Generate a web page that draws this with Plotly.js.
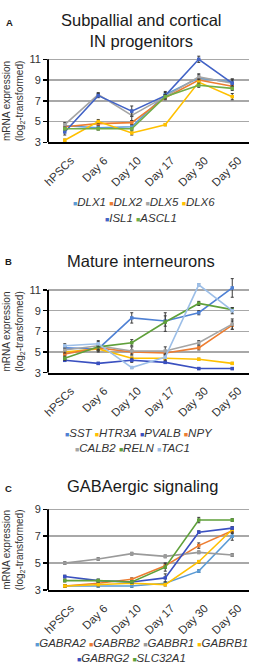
<!DOCTYPE html>
<html>
<head>
<meta charset="utf-8">
<script src="https://cdn.plot.ly/plotly-3.0.1.min.js"></script>
<style>
  html, body { margin: 0; padding: 0; background: #fff; }
  #chart { width: 254px; height: 665px; }
</style>
</head>
<body>
<div id="chart"></div>
<script>
// Time points shared by all three panels
const days = ['hPSCs', 'Day 6', 'Day 10', 'Day 17', 'Day 30', 'Day 50'];

// Panel A: subpallial and cortical IN progenitor markers (log2 mRNA)
const genesA = ['DLX1', 'DLX2', 'DLX5', 'DLX6', 'ISL1', 'ASCL1'];
const dlx1 = [4.6, 4.4, 4.5, 7.6, 9.2, 8.8];
const dlx2 = [4.5, 4.8, 4.9, 7.3, 9.0, 8.4];
const dlx5 = [4.7, 7.6, 5.6, 7.4, 9.3, 8.7];
const dlx6 = [3.2, 5.0, 3.9, 4.7, 8.8, 7.4];
const isl1 = [4.0, 7.5, 6.0, 7.5, 11.0, 8.7];
const ascl1 = [4.3, 4.3, 4.3, 7.4, 8.5, 8.2];
const dlx1Err = [0.2, 0.2, 0.2, 0.3, 0.3, 0.3];
const dlx2Err = [0.15, 0.2, 0.2, 0.2, 0.2, 0.2];
const dlx5Err = [0.2, 0.2, 0.5, 0.2, 0.3, 0.3];
const dlx6Err = [0.1, 0.2, 0.2, 0.1, 0.3, 0.3];
const isl1Err = [0.3, 0.2, 0.5, 0.3, 0.3, 0.4];
const ascl1Err = [0.1, 0.1, 0.1, 0.2, 0.2, 0.2];

// Panel B: mature interneuron markers
const genesB = ['SST', 'HTR3A', 'PVALB', 'NPY', 'CALB2', 'RELN', 'TAC1'];
const sst = [5.4, 5.3, 8.3, 8.0, 8.8, 11.2];
const htr3a = [5.0, 5.3, 4.4, 4.4, 4.3, 3.9];
const pvalb = [4.2, 3.9, 4.2, 4.0, 3.4, 3.4];
const npy = [4.8, 5.4, 5.0, 4.9, 5.4, 7.6];
const calb2 = [5.2, 5.6, 5.1, 5.1, 5.9, 7.7];
const reln = [4.4, 5.5, 5.9, 7.9, 9.7, 9.1];
const tac1 = [5.6, 5.8, 3.5, 4.5, 11.5, 9.0];
const sstErr = [0.2, 0.3, 0.5, 0.5, 0.2, 0.9];
const htr3aErr = [0.2, 0.2, 0.1, 0.1, 0.1, 0.1];
const pvalbErr = [0.1, 0.1, 0.2, 0.1, 0.1, 0.1];
const npyErr = [0.2, 0.2, 0.2, 0.2, 0.2, 0.4];
const calb2Err = [0.3, 0.4, 0.4, 0.4, 0.2, 0.5];
const relnErr = [0.2, 0.3, 0.3, 0.9, 0.2, 0.2];
const tac1Err = [0.2, 0.3, 0.1, 0.3, 0.1, 0.3];

// Panel C: GABAergic signaling genes
const genesC = ['GABRA2', 'GABRB2', 'GABBR1', 'GABRB1', 'GABRG2', 'SLC32A1'];
const gabra2 = [3.3, 3.3, 3.3, 3.5, 4.4, 7.0];
const gabrb2 = [3.3, 3.5, 3.8, 4.8, 6.3, 7.4];
const gabbr1 = [5.0, 5.3, 5.7, 5.5, 5.8, 5.6];
const gabrb1 = [3.3, 3.4, 3.5, 3.4, 5.1, 7.5];
const gabrg2 = [4.0, 3.7, 3.6, 3.9, 7.3, 7.6];
const slc32a1 = [3.7, 3.7, 3.6, 4.7, 8.2, 8.2];
const gabra2Err = [0.1, 0.1, 0.1, 0.1, 0.1, 0.3];
const gabrb2Err = [0.1, 0.1, 0.1, 0.2, 0.2, 0.2];
const gabbr1Err = [0.1, 0.1, 0.1, 0.1, 0.1, 0.1];
const gabrb1Err = [0.1, 0.1, 0.1, 0.1, 0.1, 0.2];
const gabrg2Err = [0.1, 0.1, 0.1, 0.3, 0.1, 0.1];
const slc32a1Err = [0.1, 0.1, 0.1, 0.3, 0.2, 0.1];

// Axis tick values
const ticksAB = [3, 5, 7, 9, 11];
const ticksC = [3, 5, 7, 9];

// Colours
const colorsA = ['#5b9bd5', '#ed7d31', '#a5a5a5', '#ffc000', '#4263c6', '#70ad47'];
const colorsB = ['#4f81d4', '#ffc000', '#3a50c0', '#ed7d31', '#a5a5a5', '#5fa03a', '#9dbfe8'];
const colorsC = ['#5b9bd5', '#ed7d31', '#9a9a9a', '#ffc000', '#3a50c0', '#5fa03a'];

const FONT = 'Liberation Sans, Arial, Helvetica, sans-serif';
const W = 254, H = 665;
const px = x => x / W;          // pixel -> paper x
const py = y => 1 - y / H;      // pixel -> paper y

function series(name, vals, errs, color, xa, ya) {
  return {
    type: 'scatter', mode: 'lines+markers', name: name,
    x: days, y: vals, xaxis: xa, yaxis: ya,
    line: { color: color, width: 1.6 },
    marker: { color: color, size: 3.5, symbol: 'square' },
    error_y: { type: 'data', array: errs, visible: true, color: '#3a3a3a', thickness: 1, width: 1.5 },
    cliponaxis: false,
    showlegend: false, hoverinfo: 'skip'
  };
}

const valsA = [dlx1, dlx2, dlx5, dlx6, isl1, ascl1];
const errsA = [dlx1Err, dlx2Err, dlx5Err, dlx6Err, isl1Err, ascl1Err];
const valsB = [sst, htr3a, pvalb, npy, calb2, reln, tac1];
const errsB = [sstErr, htr3aErr, pvalbErr, npyErr, calb2Err, relnErr, tac1Err];
const valsC = [gabra2, gabrb2, gabbr1, gabrb1, gabrg2, slc32a1];
const errsC = [gabra2Err, gabrb2Err, gabbr1Err, gabrb1Err, gabrg2Err, slc32a1Err];

const data = [];
genesA.forEach((g, i) => data.push(series(g, valsA[i], errsA[i], colorsA[i], 'x', 'y')));
genesB.forEach((g, i) => data.push(series(g, valsB[i], errsB[i], colorsB[i], 'x2', 'y2')));
genesC.forEach((g, i) => data.push(series(g, valsC[i], errsC[i], colorsC[i], 'x3', 'y3')));

// Panel geometry in pixels: top = pixel row of the highest tick, bottom = row of the lowest.
// A little head-room above the top tick lets peaks and error bars rise past it.
const plotLeft = 48, plotRight = 249;
const panels = [
  { top: 59.3, bottom: 142.3, lo: 3, hi: 11, head: 1.4, ticks: ticksAB },
  { top: 290, bottom: 372.7, lo: 3, hi: 11, head: 1.4, ticks: ticksAB },
  { top: 509.3, bottom: 590, lo: 3, hi: 9, head: 0.4, ticks: ticksC }
];

function xAxis(yId) {
  return {
    domain: [px(plotLeft), px(plotRight)], anchor: yId,
    type: 'category', categoryorder: 'array', categoryarray: days, range: [-0.5, 5.5],
    showline: true, linecolor: '#000', linewidth: 2, mirror: false,
    showgrid: false, zeroline: false, ticks: '', tickangle: -45,
    ticklabelstandoff: 5, ticklabelshift: 6,
    tickfont: { family: FONT, size: 11.5, color: '#333' }, fixedrange: true
  };
}
function yAxis(xId, p) {
  const pxPerUnit = (p.bottom - p.top) / (p.hi - p.lo);
  const topPx = p.top - p.head * pxPerUnit;
  return {
    domain: [py(p.bottom), py(topPx)], anchor: xId,
    range: [p.lo, p.hi + p.head], tickmode: 'array', tickvals: p.ticks,
    showline: false,
    showgrid: true, gridcolor: '#a8a8a8', gridwidth: 1.5, zeroline: false,
    ticks: 'outside', ticklen: 4, tickwidth: 1.5, tickcolor: '#000',
    tickfont: { family: FONT, size: 11, color: '#333' }, fixedrange: true
  };
}

// Vertical axis lines run only from the lowest to the highest tick
const shapes = panels.map((p, i) => {
  const sfx = i === 0 ? '' : String(i + 1);
  return {
    type: 'line', xref: 'x' + sfx + ' domain', yref: 'y' + sfx,
    x0: 0, x1: 0, y0: p.lo, y1: p.hi,
    line: { color: '#000', width: 2 }, layer: 'above'
  };
});

const annotations = [];
function note(text, x, y, size, opts) {
  annotations.push(Object.assign({
    text: text, xref: 'paper', yref: 'paper', x: px(x), y: py(y),
    xanchor: 'center', yanchor: 'middle', showarrow: false,
    font: { family: FONT, size: size, color: '#1a1a1a' }
  }, opts || {}));
}

// Panel titles and letters
note('Subpallial and cortical<br>IN progenitors', 141, 31, 16.5);
note('Mature interneurons', 141, 261, 16.5);
note('GABAergic signaling', 142, 486, 16.5);
note('<b>A</b>', 9, 23, 9.5);
note('<b>B</b>', 8.5, 261.5, 9.5);
note('<b>C</b>', 8.5, 488, 9.5);

// Y-axis titles
const yTitle = 'mRNA expression<br>(log<sub>2</sub>-transformed)';
panels.forEach(p => note(yTitle, 13.5, (p.top + p.bottom) / 2, 10,
  { textangle: -90, font: { family: FONT, size: 10, color: '#333' } }));

// Legend rows: coloured square + italic gene name
function legendRow(names, colors) {
  return names.map((n, i) =>
    '<span style="color:' + colors[i] + ';font-size:7px">\u25A0</span><i>' + n + '</i>').join(' ');
}
const lf = { family: FONT, size: 11.5, color: '#333' };
note(legendRow(genesA.slice(0, 4), colorsA.slice(0, 4)), 144, 202, 11.5, { font: lf });
note(legendRow(genesA.slice(4), colorsA.slice(4)), 141, 217.5, 11.5, { font: lf });
note(legendRow(genesB.slice(0, 4), colorsB.slice(0, 4)), 139, 432.5, 11.5, { font: lf });
note(legendRow(genesB.slice(4), colorsB.slice(4)), 132.5, 448, 11.5, { font: lf });
note(legendRow(genesC.slice(0, 4), colorsC.slice(0, 4)), 33, 642.5, 11.5, { font: lf, xanchor: 'left' });
note(legendRow(genesC.slice(4), colorsC.slice(4)), 131, 658, 11.5, { font: lf });

const layout = {
  width: W, height: H,
  margin: { l: 0, r: 0, t: 0, b: 0 },
  paper_bgcolor: '#fff', plot_bgcolor: 'rgba(0,0,0,0)',
  font: { family: FONT, color: '#333' },
  showlegend: false,
  xaxis: xAxis('y'), yaxis: yAxis('x', panels[0]),
  xaxis2: xAxis('y2'), yaxis2: yAxis('x2', panels[1]),
  xaxis3: xAxis('y3'), yaxis3: yAxis('x3', panels[2]),
  shapes: shapes,
  annotations: annotations
};

Plotly.newPlot('chart', data, layout, { staticPlot: true, displayModeBar: false });
</script>
</body>
</html>
